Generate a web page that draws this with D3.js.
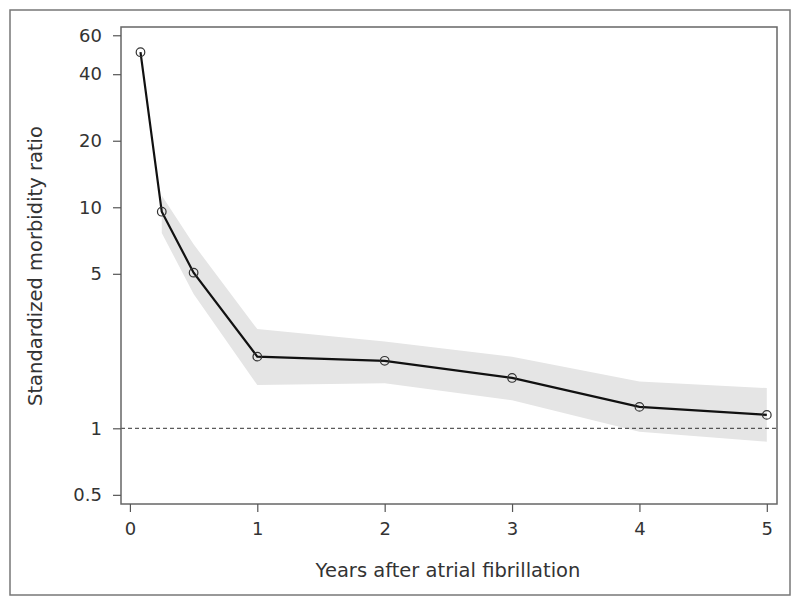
<!DOCTYPE html>
<html>
<head>
<meta charset="utf-8">
<script src="https://cdn.jsdelivr.net/npm/d3@7"></script>
<style>
  body { margin: 0; background: #fff; }
  svg { display: block; }
  text { font-family: "DejaVu Sans", sans-serif; fill: #333; }
</style>
</head>
<body>
<svg id="chart" width="800" height="606"></svg>
<script>
// Data
const years = [0.083, 0.25, 0.5, 1, 2, 3, 4, 5];
const smr = [50.3, 9.55, 5.06, 2.11, 2.02, 1.69, 1.25, 1.15];
const bandYears = [0.25, 0.5, 1, 2, 3, 4, 5];
const bandUpper = [11.3, 6.8, 2.81, 2.47, 2.11, 1.63, 1.52];
const bandLower = [7.65, 4.05, 1.57, 1.60, 1.34, 0.965, 0.87];
const xTicks = [0, 1, 2, 3, 4, 5];
const yTicks = [0.5, 1, 5, 10, 20, 40, 60];
const refValue = 1;

const svg = d3.select("#chart");
const L = 121, T = 27, R = 777, B = 504;

// outer frame
svg.append("rect").attr("x", 10).attr("y", 10).attr("width", 780).attr("height", 585)
  .attr("fill", "none").attr("stroke", "#777").attr("stroke-width", 1.5);

const x = d3.scaleLinear().domain([-0.07, 5.08]).range([L, R]);
const y = d3.scaleLog().domain([0.4545, 65.4]).range([B, T]);

const band = bandYears.map((v, i) => ({x: v, lo: bandLower[i], hi: bandUpper[i]}));
svg.append("path").datum(band)
  .attr("fill", "#e5e5e5")
  .attr("d", d3.area().x(d => x(d.x)).y0(d => y(d.lo)).y1(d => y(d.hi)));

// reference line
svg.append("line").attr("x1", L).attr("x2", R).attr("y1", y(refValue)).attr("y2", y(refValue))
  .attr("stroke", "#333").attr("stroke-width", 1).attr("stroke-dasharray", "4,3");

const pts = years.map((v, i) => ({x: v, y: smr[i]}));
svg.append("path").datum(pts)
  .attr("fill", "none").attr("stroke", "#111").attr("stroke-width", 2.2)
  .attr("d", d3.line().x(d => x(d.x)).y(d => y(d.y)));

svg.selectAll("circle.pt").data(pts).enter().append("circle")
  .attr("class", "pt")
  .attr("cx", d => x(d.x)).attr("cy", d => y(d.y)).attr("r", 4.3)
  .attr("fill", "none").attr("stroke", "#333").attr("stroke-width", 1.2);

// plot frame
svg.append("rect").attr("x", L).attr("y", T).attr("width", R - L).attr("height", B - T)
  .attr("fill", "none").attr("stroke", "#666").attr("stroke-width", 1.5);

// axes
const xAxis = svg.append("g").attr("transform", `translate(0,${B})`)
  .call(d3.axisBottom(x).tickValues(xTicks).tickSize(8).tickPadding(10).tickFormat(d3.format("d")));
const yAxis = svg.append("g").attr("transform", `translate(${L},0)`)
  .call(d3.axisLeft(y).tickValues(yTicks).tickSize(8).tickPadding(11).tickFormat(d => String(d)));
[xAxis, yAxis].forEach(g => {
  g.select(".domain").remove();
  g.selectAll(".tick line").attr("stroke", "#555").attr("stroke-width", 1.2);
  g.selectAll(".tick text").attr("font-size", 18).attr("font-family", "DejaVu Sans, sans-serif").attr("fill", "#333");
});

svg.append("text").attr("x", 448).attr("y", 577)
  .attr("text-anchor", "middle").attr("font-size", 19.5).text("Years after atrial fibrillation");

svg.append("text").attr("transform", "translate(42,266) rotate(-90)")
  .attr("text-anchor", "middle").attr("font-size", 19.5).text("Standardized morbidity ratio");
</script>
</body>
</html>
